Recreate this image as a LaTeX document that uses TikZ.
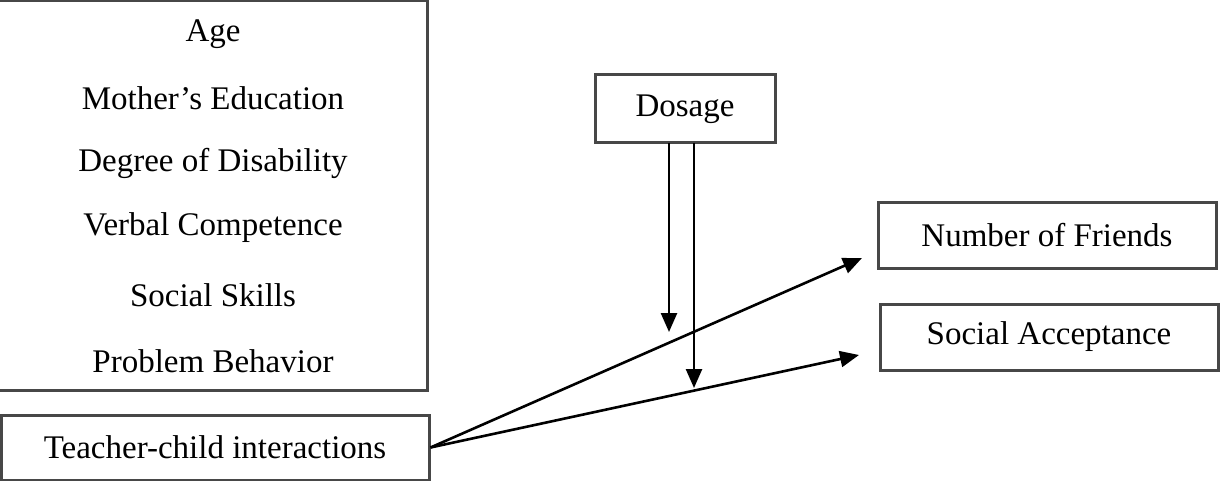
\documentclass[tikz,border=0pt]{standalone}
\usepackage{fontspec}
\setmainfont{Liberation Serif}
\usetikzlibrary{arrows.meta}
\begin{document}
\begin{tikzpicture}[x=1pt,y=-1pt,
  box/.style={draw=black!72,line width=3pt,inner sep=0pt,font=\fontsize{33}{39}\selectfont},
  arr/.style={draw=black,line width=2.6pt,-{Triangle[length=19pt,width=16pt]}},
  lbl/.style={font=\fontsize{33}{39}\selectfont,inner sep=0pt}]
\useasboundingbox (0,0) rectangle (1225,481);
% covariates box
\node[box,minimum width=429pt,minimum height=389pt] (cov) at (212.5,195.5) {};
\node[lbl] (t1) at (213,34) {Age};
\node[lbl] (t2) at (213,98) {Mother's Education};
\node[lbl] (t3) at (213,163) {Degree of Disability};
\node[lbl] (t4) at (213,228) {Verbal Competence};
\node[lbl] (t5) at (213,295) {Social Skills};
\node[lbl] (t6) at (213,361) {Problem Behavior};
% teacher-child box
\node[box,minimum width=428pt,minimum height=65pt] (tci) at (215,447.5) {Teacher-child interactions};
% dosage
\node[box,minimum width=180pt,minimum height=68pt] (dos) at (685,109) {Dosage};
% outcomes
\node[box,minimum width=338pt,minimum height=66pt] (nf) at (1047,235) {Number of Friends};
\node[box,minimum width=338pt,minimum height=66pt] (sa) at (1049,337) {Social Acceptance};
% arrow endpoints
\coordinate (nftip) at (862,258);
\coordinate (satip) at (859,355);
\coordinate (d1s) at (669,143);
\coordinate (d1t) at (669,332);
\coordinate (d2s) at (694,143);
\coordinate (d2t) at (694,388);
\draw[arr] (tci.east) -- (nftip);
\draw[arr] (tci.east) -- (satip);
\draw[arr] (d1s) -- (d1t);
\draw[arr] (d2s) -- (d2t);
\end{tikzpicture}
\end{document}
